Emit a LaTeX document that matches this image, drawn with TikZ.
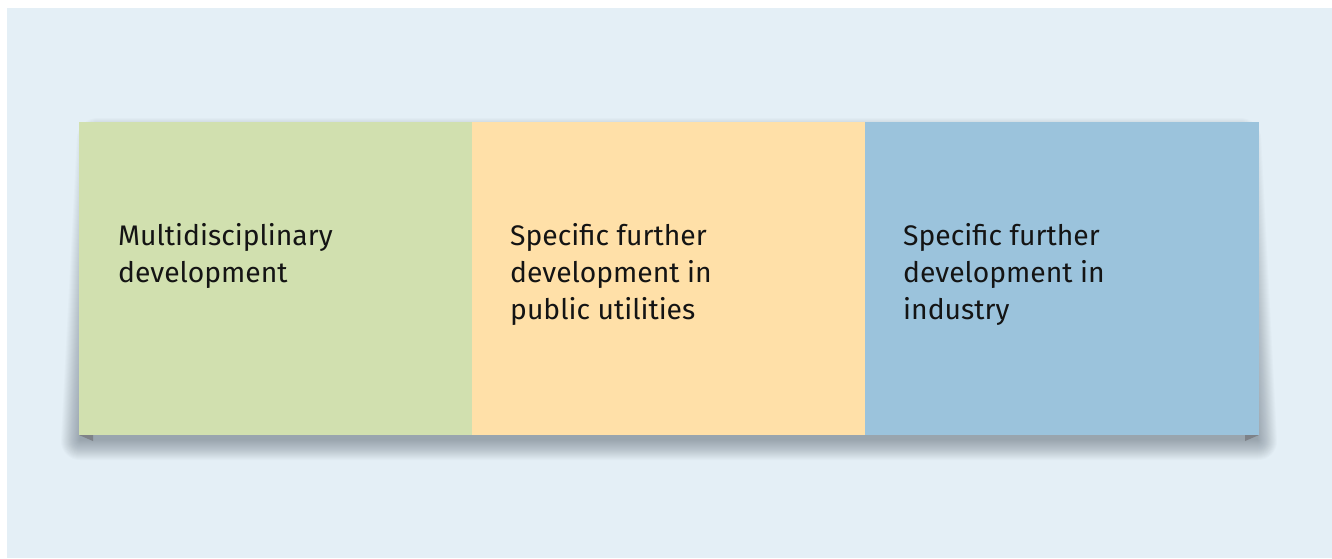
\documentclass[tikz,border=0pt]{standalone}
\usepackage{fontspec}
\setmainfont{Fira Sans}
\definecolor{panelbg}{HTML}{E4EFF6}
\definecolor{greenbox}{HTML}{D1E0AF}
\definecolor{yellowbox}{HTML}{FFE0A8}
\definecolor{bluebox}{HTML}{9BC3DC}
\definecolor{shadowc}{HTML}{1E2A3A}
\definecolor{foldc}{HTML}{7E8288}
\definecolor{textc}{HTML}{141414}
\begin{document}
\begin{tikzpicture}[x=1pt,y=-1pt,
  band/.style={minimum width=393pt,minimum height=313pt,inner sep=0pt,anchor=north west,draw=none},
  label/.style={anchor=base west,inner sep=0pt,align=left,text=textc,
    font=\fontsize{28.3}{37}\selectfont}]
  % canvas and panel
  \useasboundingbox (0,0) rectangle (1332,558);
  \fill[white] (0,0) rectangle (1332,558);
  \fill[panelbg] (7,8) rectangle (1332,558);
  % soft drop shadow under the strip, heavier towards the bottom
  \foreach \k in {0,...,20}{
    \fill[shadowc,opacity=0.019,rounded corners=\k pt]
      (98-\k,138-\k) -- (1240+\k,138-\k) -- (1258+\k,440+\k) -- (80-\k,440+\k) -- cycle;
  }
  % folded corner tabs
  \fill[foldc] (79,435) -- (93,435) -- (93,441) -- cycle;
  \fill[foldc] (1245,435) -- (1259,435) -- (1245,441) -- cycle;
  % the three bands
  \node[band,fill=greenbox] (b1) at (79,122) {};
  \node[band,fill=yellowbox] (b2) at (472,122) {};
  \node[band,fill=bluebox,minimum width=394pt] (b3) at (865,122) {};
  % band texts (anchored on the baseline of the last line)
  \node[label] (t1) at (118,282) {Multidisciplinary\\development};
  \node[label] (t2) at (510,319) {Specific further\\development in\\public utilities};
  \node[label] (t3) at (903,319) {Specific further\\development in\\industry};
\end{tikzpicture}
\end{document}
